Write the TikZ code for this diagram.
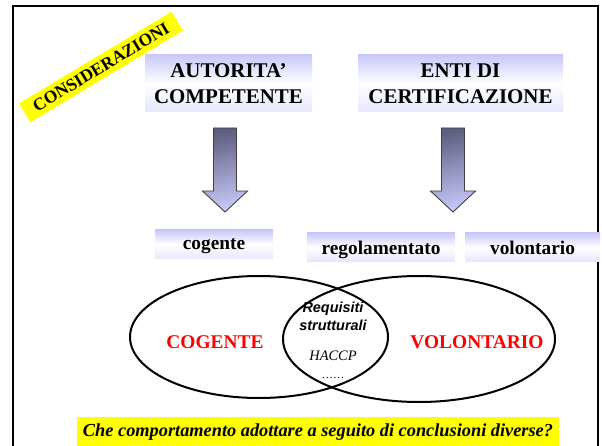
\documentclass[tikz,border=0pt]{standalone}
\usepackage{fontspec}
\setmainfont{Liberation Serif}
\newfontfamily\helv{Liberation Sans}
\usetikzlibrary{positioning}
\definecolor{lav}{HTML}{C8C8FA}
\definecolor{arrdark}{HTML}{5E5E80}
\definecolor{hilite}{HTML}{FFFF00}
\definecolor{venred}{HTML}{FF0000}
\tikzset{
  frame/.style={draw=black, line width=2bp},
  titlebox/.style={top color=lav, bottom color=lav!45, middle color=white, align=center,
    inner sep=0pt, font=\fontsize{21}{26}\selectfont\bfseries},
  kindbox/.style={top color=lav, bottom color=lav!45, middle color=white, text depth=0pt,
    inner sep=0pt, minimum height=29bp, font=\fontsize{19.4}{22}\selectfont\bfseries},
  bigarrow/.style={draw=black!75, line width=0.9bp, line join=miter,
    top color=arrdark, bottom color=lav, shading angle=12},
  venn/.style={draw=black, line width=2bp},
  vennlab/.style={text=venred, font=\fontsize{19.5}{22}\selectfont\bfseries},
  tag/.style={fill=hilite, inner sep=0pt},
}

\begin{document}
\begin{tikzpicture}[x=1bp, y=-1bp]
\useasboundingbox (0,0) rectangle (602,446);
\draw[frame] (13,6) rectangle (598,470);

% banner
\node[tag, rotate=31, minimum width=178bp, minimum height=22bp,
  font=\fontsize{17.5}{20}\selectfont\bfseries] (banner) at (101,67) {CONSIDERAZIONI};

% two sources
\node[titlebox, minimum width=167bp, minimum height=57bp] (auth) at (228.5,83.5)
  {AUTORITA'\\COMPETENTE};
\node[titlebox, minimum width=205bp, minimum height=57bp] (enti) at (460.5,83.5)
  {ENTI DI\\CERTIFICAZIONE};

% block arrows
\foreach \cx in {225,453}{
  \draw[bigarrow] (\cx-11.5,128) -- (\cx+11.5,128) -- (\cx+11.5,191) -- (\cx+22.5,191)
    -- (\cx,212) -- (\cx-22.5,191) -- (\cx-11.5,191) -- cycle;
}

% kinds
\node[kindbox, minimum width=118bp] (cog) at (214,244.5) {cogente};
\node[kindbox, minimum width=148bp] (reg) at (381,247.5) {regolamentato};
\node[kindbox, minimum width=135bp] (vol) at (532.5,247.5) {volontario};

% venn
\draw[venn] (259,337) ellipse [x radius=129, y radius=61];
\draw[venn] (419,339) ellipse [x radius=136, y radius=63];
\node[vennlab] (cogv) at (215,342) {COGENTE};
\node[vennlab] (volv) at (477,342) {VOLONTARIO};
\node[align=center, inner sep=0pt, font=\helv\fontsize{14.5}{18}\selectfont\bfseries\itshape]
  (req) at (333,316) {Requisiti\\strutturali};
\node[inner sep=0pt, font=\fontsize{14.5}{17}\selectfont\itshape] (haccp) at (333,356) {HACCP};
\node[inner sep=0pt, font=\fontsize{11.5}{13}\selectfont] (more) at (333,378) {……};

% question
\node[tag, minimum width=482bp, minimum height=31bp,
  font=\fontsize{18.4}{21}\selectfont\bfseries\itshape] (quest) at (318,432.5)
  {Che comportamento adottare a seguito di conclusioni diverse?};
\end{tikzpicture}
\end{document}
